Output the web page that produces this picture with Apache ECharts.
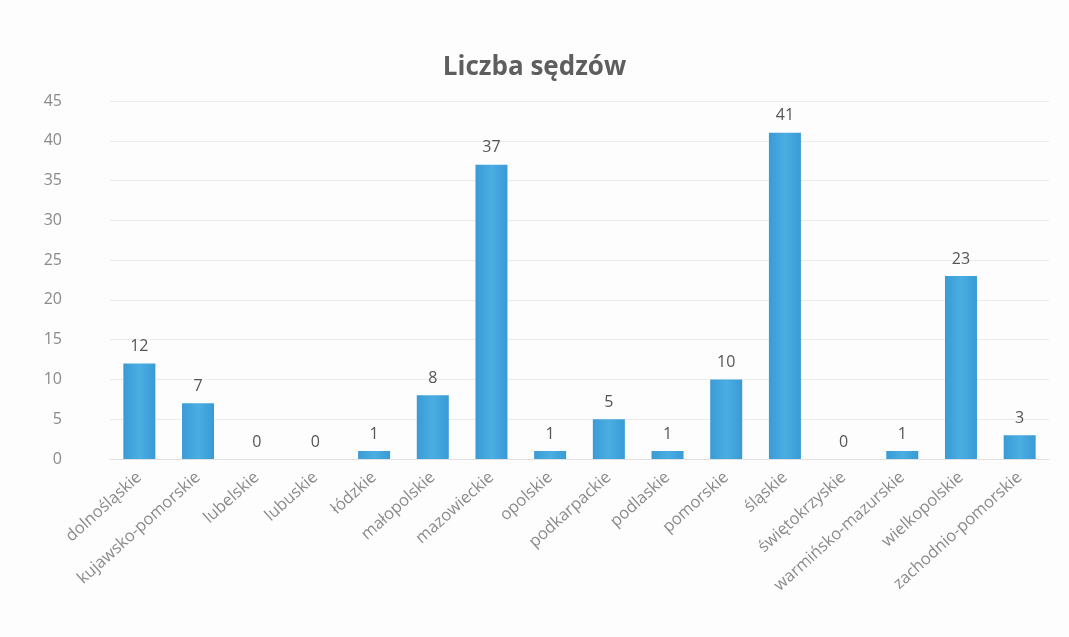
<!DOCTYPE html>
<html lang="pl">
<head>
	<meta charset="UTF-8">
	<title>Liczba sędziów</title>
	<script src="https://cdn.jsdelivr.net/npm/echarts@6/dist/echarts.min.js"></script>
</head>
<body style="margin:0;background:#fdfdfd;">
	<div id="container" style="width:1069px;height:637px;"></div>

	<script>
		var regions = ['dolnośląskie', 'kujawsko-pomorskie', 'lubelskie', 'lubuskie', 'łódzkie',
			'małopolskie', 'mazowieckie', 'opolskie', 'podkarpackie', 'podlaskie', 'pomorskie',
			'śląskie', 'świętokrzyskie', 'warmińsko-mazurskie', 'wielkopolskie', 'zachodnio-pomorskie'];
		var judges = [12, 7, 0, 0, 1, 8, 37, 1, 5, 1, 10, 41, 0, 1, 23, 3];
		var yTicks = [0, 5, 10, 15, 20, 25, 30, 35, 40, 45];

		var myChart = echarts.init(document.getElementById('container'));

		var option = {
			backgroundColor: '#fdfdfd',
			title: {
				text: 'Liczba sędzów',
				left: 'center',
				top: 50,
				textStyle: {
					fontFamily: 'Open Sans',
					fontSize: 26,
					fontWeight: 'bold',
					color: '#5e5e5e'
				}
			},
			grid: {
				left: 110,
				right: 20,
				top: 101,
				bottom: 178
			},
			xAxis: {
				type: 'category',
				data: regions,
				axisTick: { show: false },
				axisLine: { lineStyle: { color: '#e0e0e0' } },
				axisLabel: {
					interval: 0,
					rotate: 42,
					margin: 16,
					color: '#8a8a8a',
					fontFamily: 'Open Sans',
					fontSize: 16.5
				}
			},
			yAxis: {
				type: 'value',
				min: yTicks[0],
				max: yTicks[yTicks.length - 1],
				interval: 5,
				axisLine: { show: false },
				axisTick: { show: false },
				splitLine: { lineStyle: { color: '#ececec' } },
				axisLabel: {
					margin: 48,
					color: '#8a8a8a',
					fontFamily: 'Open Sans',
					fontSize: 16
				}
			},
			series: [{
				name: 'Liczba sędzów',
				type: 'bar',
				data: judges,
				barWidth: 32,
				itemStyle: {
					color: new echarts.graphic.LinearGradient(0, 0, 1, 0, [
						{ offset: 0, color: '#3a9ad6' },
						{ offset: 0.5, color: '#4aaee2' },
						{ offset: 1, color: '#3a9ad6' }
					])
				},
				label: {
					show: true,
					position: 'top',
					distance: 9,
					color: '#555',
					fontFamily: 'Open Sans',
					fontSize: 16
				}
			}]
		};

		myChart.setOption(option);
	</script>
</body>
</html>
